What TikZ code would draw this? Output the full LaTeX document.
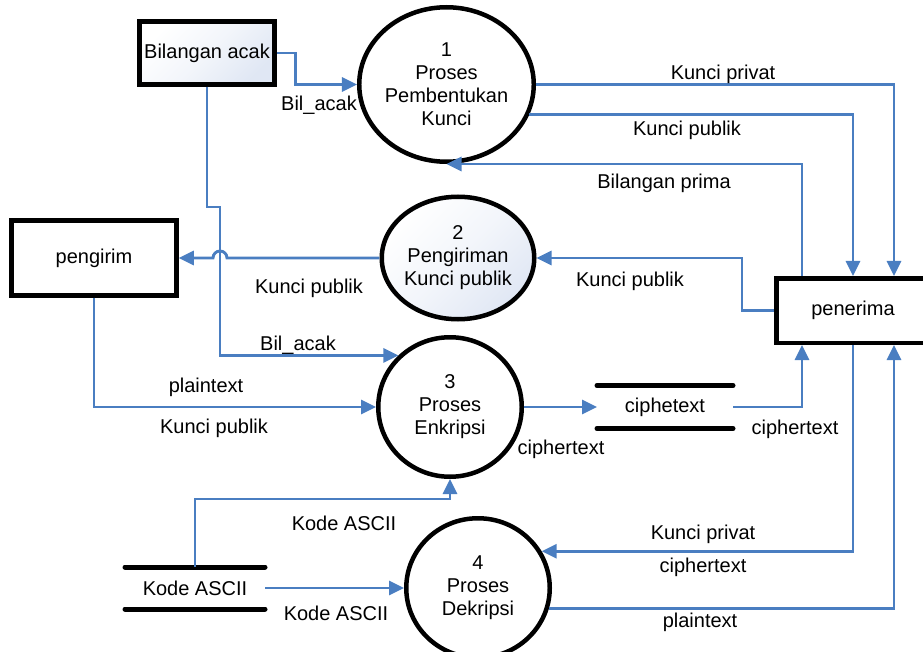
\documentclass[tikz,border=0pt]{standalone}
\usepackage{fontspec}
\setmainfont{Liberation Sans}
\usetikzlibrary{arrows.meta,shapes.geometric}
\definecolor{flowblue}{RGB}{74,126,193}
\definecolor{shadeblue}{RGB}{224,231,244}
\begin{document}
\begin{tikzpicture}[x=1pt,y=-1pt,
  txt/.style={font=\fontsize{20}{23}\selectfont, inner sep=0pt},
  proc/.style={ellipse, draw=black, line width=4.5pt, fill=white, align=center, txt},
  ent/.style={rectangle, draw=black, line width=4.5pt, fill=white, txt},
  store/.style={rectangle, outer sep=0pt, txt},
  storeline/.style={line width=5pt, line cap=round},
  flow/.style={draw=flowblue, line width=2.9pt, -{Triangle[length=15pt,width=14pt]}},
  soft/.style={top color=white, bottom color=shadeblue, middle color=white!60!shadeblue, shading angle=45}
]
\useasboundingbox (0,0) rectangle (923,652);

% external entities
\node[ent, soft, minimum width=135, minimum height=63] (bil) at (207,53) {Bilangan acak};
\node[ent, minimum width=165, minimum height=74.5] (peng) at (94,258) {pengirim};
\node[ent, minimum width=153.5, minimum height=64.5] (pen) at (853,310.5) {penerima};

% processes
\node[proc, minimum width=162.5, minimum height=154.5] (c1) at (446.5,84.5) {1\\Proses\\Pembentukan\\Kunci};
\node[proc, soft, minimum width=138.5, minimum height=122.5] (c2) at (458,258) {2\\Pengiriman\\Kunci publik};
\node[proc, minimum width=143.5, minimum height=139.5] (c3) at (450,407) {3\\Proses\\Enkripsi};
\node[proc, minimum width=143.5, minimum height=139.5] (c4) at (478,588) {4\\Proses\\Dekripsi};

% data stores
\node[store, minimum width=136, minimum height=43] (cs) at (665,407) {ciphetext};
\draw[storeline] (cs.north west) -- (cs.north east);
\draw[storeline] (cs.south west) -- (cs.south east);
\node[store, minimum width=140, minimum height=42] (ks) at (195,588) {Kode ASCII};
\draw[storeline] (ks.north west) -- (ks.north east);
\draw[storeline] (ks.south west) -- (ks.south east);

% data flows
\draw[flow] (bil.east) -- ++(19,0) |- (c1.west);
\draw[flow] (c1.east) -| (894,0 |- pen.north);
\draw[flow] (c1.-20) -| (853,0 |- pen.north);
\draw[flow] (802,0 |- pen.north) |- (c1.south);
\draw[flow] (pen.west) -- ++(-32,0) |- (c2.east);
\draw[flow] (c2.west) -- (227,0 |- c2.west) arc[start angle=0, end angle=-180, radius=7] -- (peng.east);
\draw[flow] (bil.south) |- (220,207) |- (c3.135);
\draw[flow] (peng.south) |- (c3.west);
\draw[flow] (c3.east) -- (cs.west);
\draw[flow] (cs.east) -| (802,0 |- pen.south);
\draw[flow] (ks.north) -- ++(0,-68) -| (c3.south);
\draw[flow] (ks.east) -- (c4.west);
\draw[flow] (853,0 |- pen.south) |- (c4.30);
\draw[flow] (c4.-16) -| (894,0 |- pen.south);

% flow labels
\node[txt] (l1) at (319,105) {Bil\_acak};
\node[txt] (l2) at (723,74) {Kunci privat};
\node[txt] (l3) at (687,130) {Kunci publik};
\node[txt] (l4) at (664,183) {Bilangan prima};
\node[txt] (l5) at (630,281) {Kunci publik};
\node[txt] (l6) at (309,288) {Kunci publik};
\node[txt] (l7) at (298,345) {Bil\_acak};
\node[txt] (l8) at (206,387) {plaintext};
\node[txt] (l9) at (214,428) {Kunci publik};
\node[txt] (l10) at (561,449) {ciphertext};
\node[txt] (l11) at (795,429) {ciphertext};
\node[txt] (l12) at (344,523) {Kode ASCII};
\node[txt] (l13) at (336,613) {Kode ASCII};
\node[txt] (l14) at (703,534) {Kunci privat};
\node[txt] (l15) at (703,567) {ciphertext};
\node[txt] (l16) at (700,622) {plaintext};
\end{tikzpicture}
\end{document}
